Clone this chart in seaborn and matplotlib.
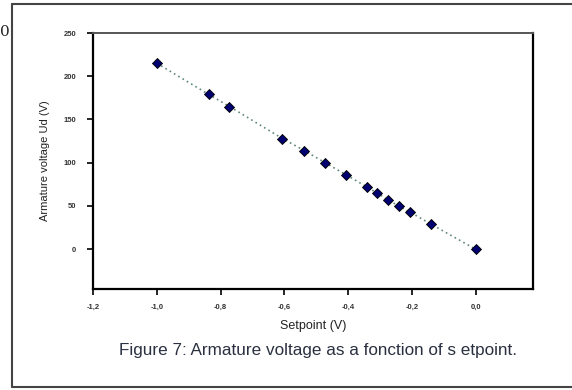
import matplotlib
matplotlib.use("Agg")
import matplotlib.pyplot as plt
import seaborn as sns
import pandas as pd
from matplotlib.lines import Line2D

setpoint = [-1.0, -0.837, -0.772, -0.606, -0.537, -0.472, -0.406, -0.341, -0.309, -0.275, -0.241, -0.206, -0.14, 0.0]
voltage = [215, 179, 165, 128, 114, 100, 86, 72, 65, 57, 50, 43, 29, 0]
xticks = [-1.2, -1.0, -0.8, -0.6, -0.4, -0.2, 0.0]
xticklabels = ["-1,2", "-1,0", "-0,8", "-0,6", "-0,4", "-0,2", "0,0"]
yticks = [0, 50, 100, 150, 200, 250]
yticklabels = ["0", "50", "100", "150", "200", "250"]

df = pd.DataFrame({"Setpoint": setpoint, "Voltage": voltage})

sns.set_style("white")
plt.rcParams["font.family"] = ["Liberation Sans", "DejaVu Sans"]

fig = plt.figure(figsize=(5.72, 3.9), dpi=100)
ax = fig.add_axes([93/572, 1-289/390, (533-93)/572, (289-33)/390])

sns.lineplot(data=df, x="Setpoint", y="Voltage", ax=ax, color="#5f8a7a",
             linestyle=(0, (1, 2)), linewidth=1.2, sort=False)
sns.scatterplot(data=df, x="Setpoint", y="Voltage", ax=ax, marker="D", s=26,
                color="#000070", edgecolor="black", linewidth=0.6, zorder=3)

ax.set_xlim(-1.2, 0.18)
ax.set_ylim(-46, 250)
ax.set_xticks(xticks)
ax.set_xticklabels(xticklabels, fontweight="bold")
ax.set_yticks(yticks)
ax.set_yticklabels(yticklabels, fontweight="bold")
ax.tick_params(axis="both", which="both", direction="out", length=4, width=1.2,
               labelsize=5.5, colors="black", left=True, bottom=True)
ax.tick_params(axis="x", pad=7, labelcolor="#333333")
ax.tick_params(axis="y", pad=8, labelcolor="#333333")
for s in ["left", "bottom"]:
    ax.spines[s].set_color("black")
    ax.spines[s].set_linewidth(1.6)
ax.spines["top"].set_color("#555555")
ax.spines["top"].set_linewidth(1.4)
ax.spines["right"].set_color("black")
ax.spines["right"].set_linewidth(1.6)

ax.set_xlabel("Setpoint (V)", fontsize=9, labelpad=6, color="#222222")
ax.set_ylabel("Armature voltage Ud (V)", fontsize=8, labelpad=10, color="#222222")

fig.text(318/572, 1-351/390, "Figure 7: Armature voltage as a fonction of s etpoint.",
         ha="center", va="center", fontsize=12.3, color="#2a3040")

# outer frame
fig.add_artist(Line2D([12/572, 12/572], [1-4/390, 1-387/390], color="#444444", linewidth=1.5, transform=fig.transFigure))
fig.add_artist(Line2D([12/572, 1.0], [1-4/390, 1-4/390], color="#444444", linewidth=1.5, transform=fig.transFigure))
fig.add_artist(Line2D([12/572, 1.0], [1-387/390, 1-387/390], color="#444444", linewidth=1.5, transform=fig.transFigure))
fig.text(0.0, 1-32/390, "0", fontsize=11, family="DejaVu Serif", ha="left", va="center")

fig.savefig("out.png", dpi=100)
